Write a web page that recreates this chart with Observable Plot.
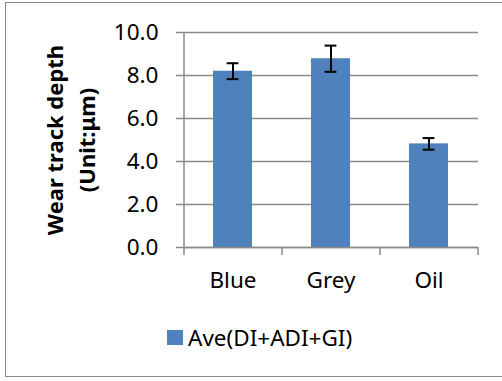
<!DOCTYPE html>
<html>
<head>
<meta charset="utf-8">
<script src="https://cdn.jsdelivr.net/npm/d3@7"></script>
<script src="https://cdn.jsdelivr.net/npm/@observablehq/plot@0.6"></script>
<style>
  html, body { margin: 0; padding: 0; background: #fff; overflow: hidden; }
  #wrap { position: relative; width: 502px; height: 381px; overflow: hidden; font-family: "Noto Sans", sans-serif; }
  #border { position: absolute; left: 5px; top: 1.5px; width: 600px; height: 375px; border: 1.5px solid #8a8a8a; box-sizing: border-box; }
  #chart { position: absolute; left: 0; top: 0; }
  #ytitle { position: absolute; width: 260px; height: 64px; left: -60.2px; top: 107.5px; transform: rotate(-90deg); transform-origin: 50% 50%;
            font-weight: bold; font-size: 22px; line-height: 32px; text-align: center; color: #000; white-space: nowrap; }
  #legend { position: absolute; left: 167px; top: 326.7px; font-size: 22.5px; line-height: 1; color: #000; white-space: nowrap; }
  #legend .sw { position: absolute; left: 0; top: 3.3px; width: 16px; height: 15px; background: #4F81BD; }
  #legend .lab { position: absolute; left: 21px; top: 0; }
</style>
</head>
<body>
<div id="wrap">
  <div id="border"></div>
  <div id="chart"></div>
  <div id="ytitle">Wear track depth<br>(Unit:μm)</div>
  <div id="legend"><span class="sw"></span><span class="lab"></span></div>
</div>
<script>
const categories = ["Blue", "Grey", "Oil"];
const values = [8.2, 8.78, 4.82];
const errors = [0.37, 0.61, 0.27];
const yTicks = [0, 2, 4, 6, 8, 10];
const seriesName = "Ave(DI+ADI+GI)";

const data = categories.map((c, i) => ({cat: c, v: values[i], lo: values[i] - errors[i], hi: values[i] + errors[i]}));

const W = 502, H = 300;
const mL = 184, mR = 24, mT = 32, mB = 53;
const step = (W - mL - mR) / categories.length;
const gray = "#8a8a8a";

const plot = Plot.plot({
  width: W,
  height: H,
  marginLeft: mL,
  marginRight: mR,
  marginTop: mT,
  marginBottom: mB,
  style: {fontFamily: "Noto Sans, sans-serif", fontSize: "22.5px", color: "#000", background: "transparent"},
  x: {domain: categories, paddingInner: 0.6, paddingOuter: 0.3, axis: null},
  y: {domain: [0, 10], axis: null},
  marks: [
    Plot.gridY(yTicks, {stroke: gray, strokeOpacity: 1, strokeWidth: 1.5}),
    Plot.axisY({ticks: yTicks, tickFormat: d3.format(".1f"), tickSize: 8, tickPadding: 18, stroke: gray, strokeWidth: 1.5, fill: "#000", fontSize: 22.5, label: null}),
    Plot.axisX({tickSize: 0, tickPadding: 25, fill: "#000", fontSize: 22.5, label: null}),
    Plot.barY(data, {x: "cat", y: "v", fill: "#4F81BD"}),
    Plot.ruleY([0], {stroke: gray, strokeWidth: 1.5}),
    // y-axis line + first boundary tick
    Plot.ruleX([categories[0]], {x: d => d, y1: 10, y2: 0, dx: -step / 2, insetBottom: -8, stroke: gray, strokeWidth: 1.5}),
    // category boundary ticks
    Plot.ruleX(categories.slice(1), {x: d => d, y1: 0, y2: 0, dx: -step / 2, insetBottom: -8, stroke: gray, strokeWidth: 1.5}),
    Plot.ruleX([categories[categories.length - 1]], {x: d => d, y1: 0, y2: 0, dx: step / 2, insetBottom: -8, stroke: gray, strokeWidth: 1.5}),
    // error bars
    Plot.ruleX(data, {x: "cat", y1: "lo", y2: "hi", stroke: "#000", strokeWidth: 2}),
    Plot.tickY(data, {x: "cat", y: "lo", stroke: "#000", strokeWidth: 2, insetLeft: 13.6, insetRight: 13.6}),
    Plot.tickY(data, {x: "cat", y: "hi", stroke: "#000", strokeWidth: 2, insetLeft: 13.6, insetRight: 13.6})
  ]
});
document.getElementById("chart").appendChild(plot);
document.querySelector("#legend .lab").textContent = seriesName;
</script>
</body>
</html>
